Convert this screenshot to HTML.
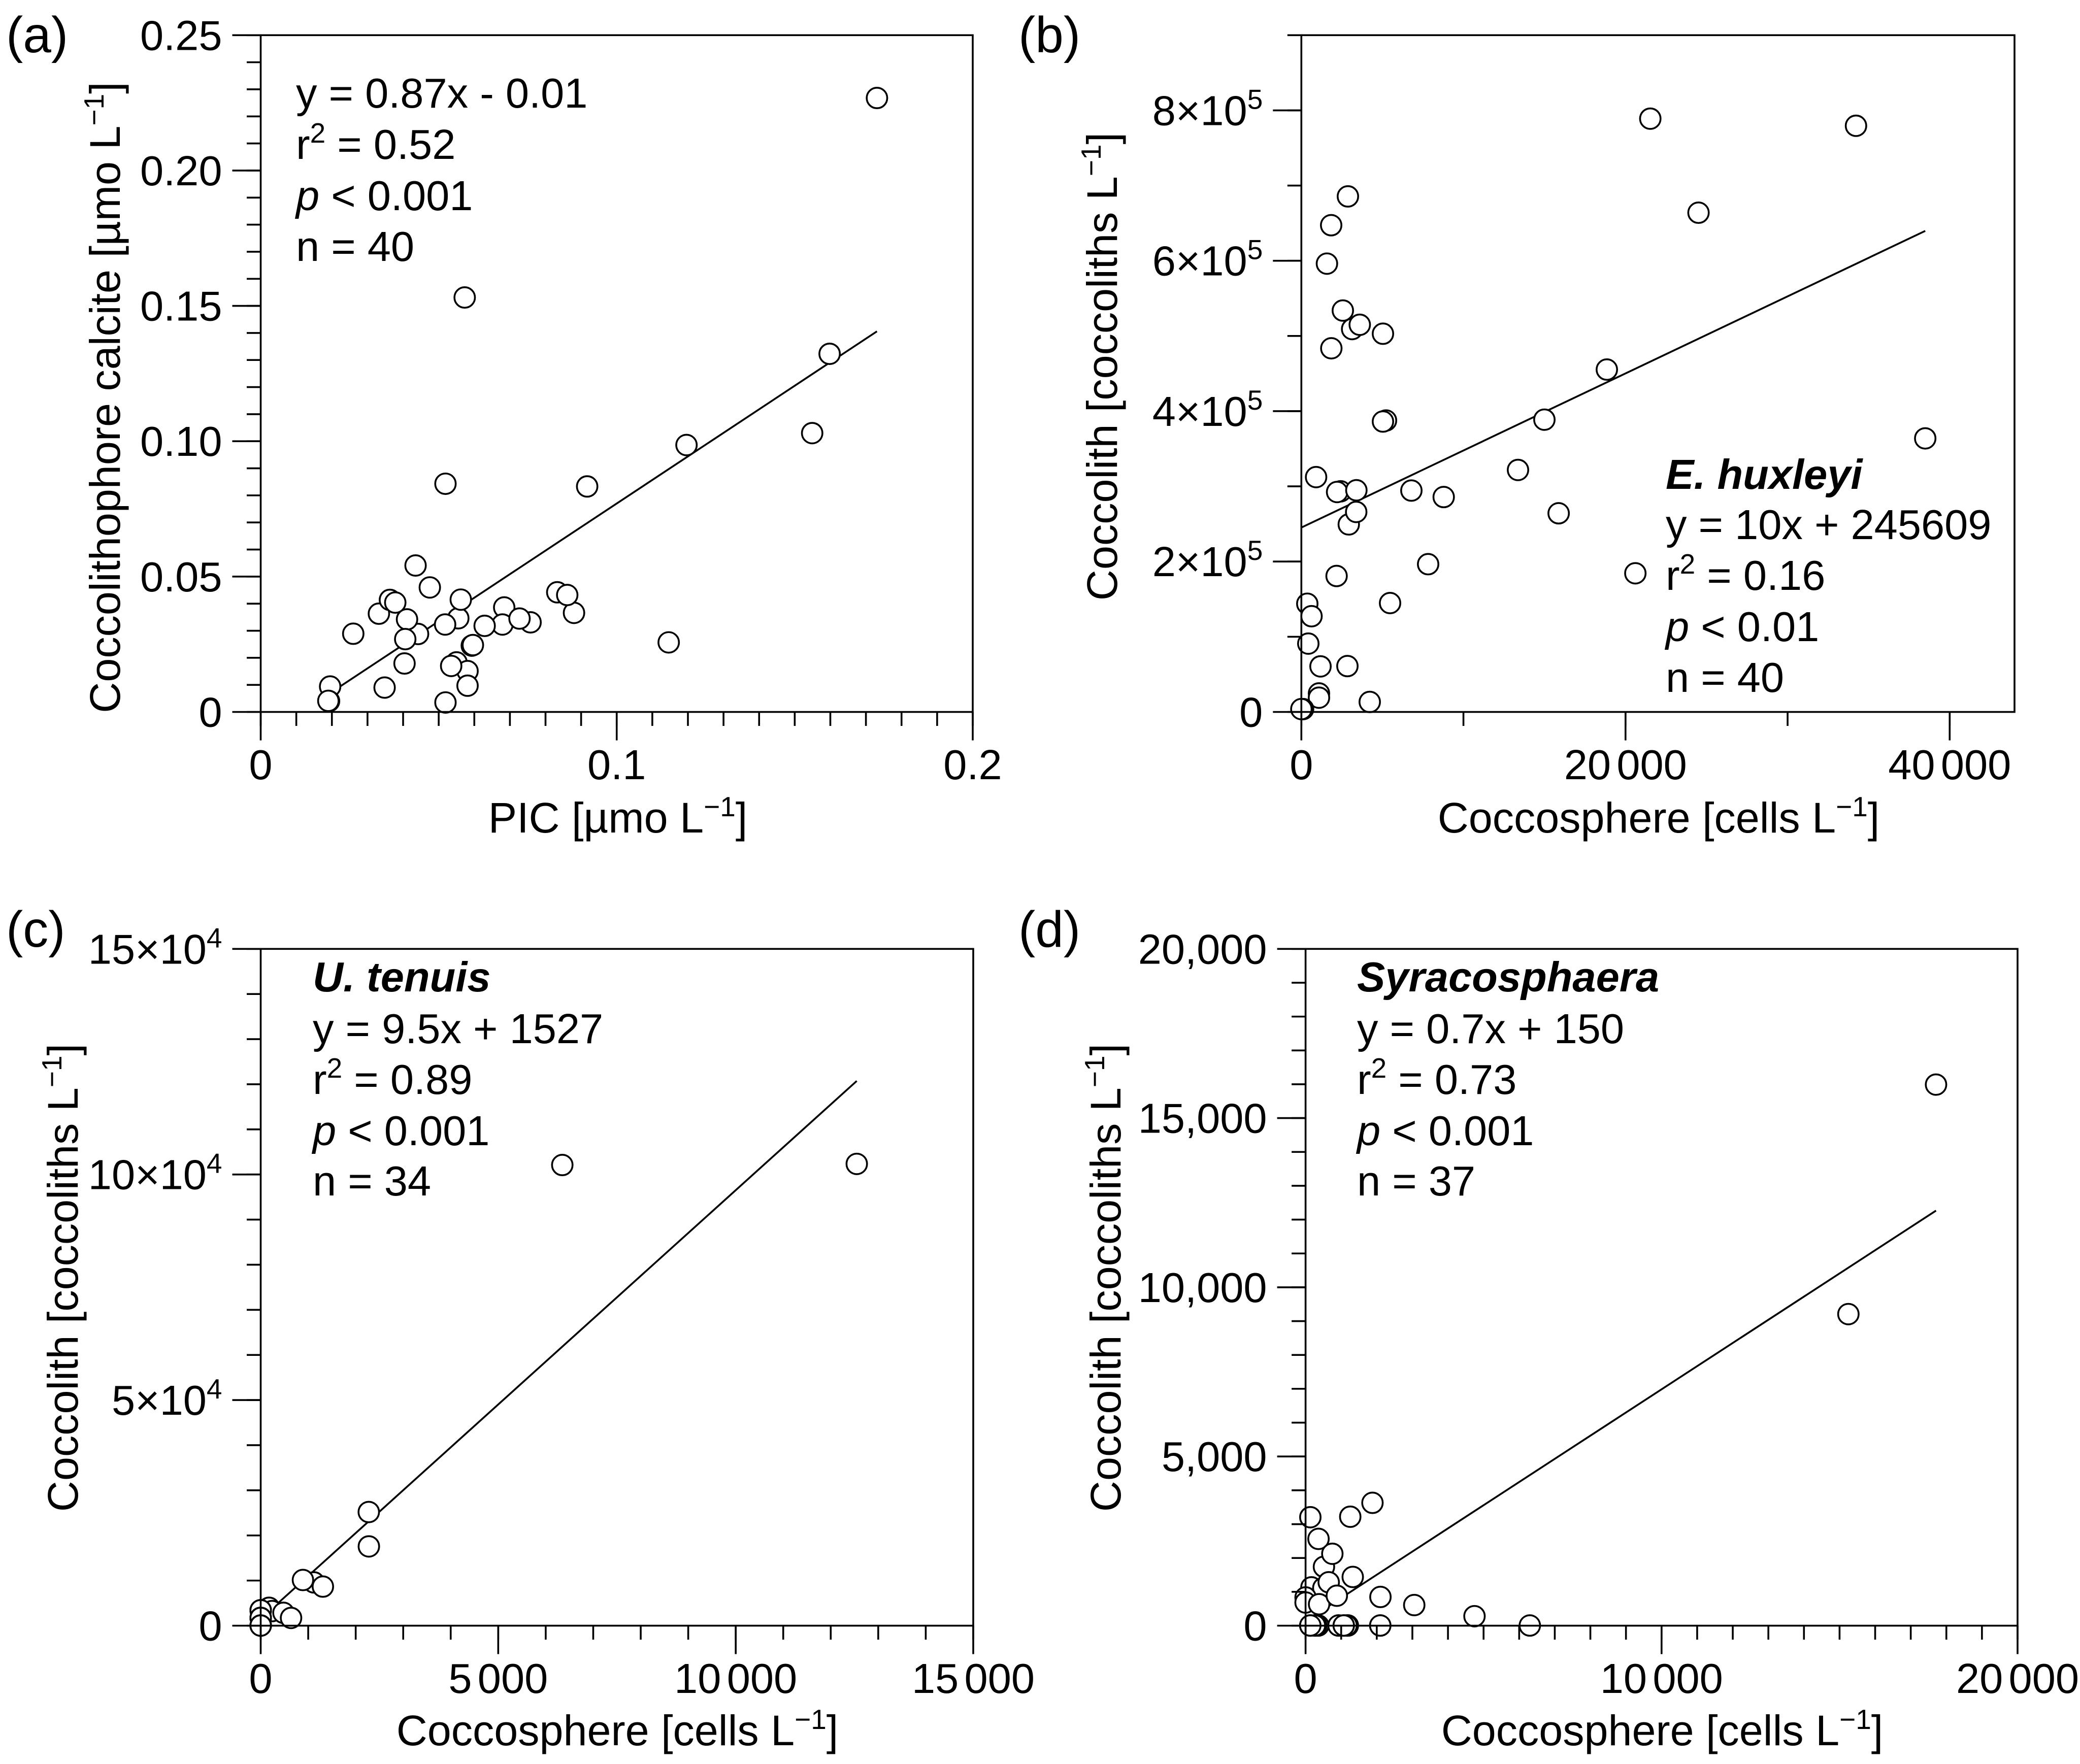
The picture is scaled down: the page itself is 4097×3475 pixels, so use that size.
<!DOCTYPE html>
<html lang="en">
<head>
<meta charset="utf-8">
<title>Coccolith and coccosphere regressions</title>
<style>
html,body{margin:0;padding:0;background:#fff;}
svg{display:block;}
text{font-family:"Liberation Sans",sans-serif;font-size:83px;fill:#000;}
.panel-tag{font-size:100px;}
.axis-title{font-size:84.5px;}
</style>
</head>
<body>
<svg id="figure" xmlns="http://www.w3.org/2000/svg" width="4097" height="3475" viewBox="0 0 4097 3475">
<rect width="4097" height="3475" fill="#fff"/>
<g id="panel-a"></g>
<g id="panel-b"></g>
<g id="panel-c"></g>
<g id="panel-d"></g>

<g>
<text class="panel-tag" x="12" y="103">(a)</text>
<text class="panel-tag" x="2006" y="103">(b)</text>
<text class="panel-tag" x="12" y="1865">(c)</text>
<text class="panel-tag" x="2006" y="1865">(d)</text>
</g>

<g>
<text class="axis-title" x="1217" y="1640" text-anchor="middle">PIC [µmo L<tspan dy="-32" font-size="55">−1</tspan><tspan dy="32">]</tspan></text>
<text class="axis-title" transform="translate(236 783) rotate(-90)" text-anchor="middle">Coccolithophore calcite [µmo L<tspan dy="-32" font-size="55">−1</tspan><tspan dy="32">]</tspan></text>
<text class="axis-title" x="3267" y="1640" text-anchor="middle">Coccosphere [cells L<tspan dy="-32" font-size="55">−1</tspan><tspan dy="32">]</tspan></text>
<text class="axis-title" transform="translate(2200 722) rotate(-90)" text-anchor="middle">Coccolith [coccoliths L<tspan dy="-32" font-size="55">−1</tspan><tspan dy="32">]</tspan></text>
<text class="axis-title" x="1216" y="3438" text-anchor="middle">Coccosphere [cells L<tspan dy="-32" font-size="55">−1</tspan><tspan dy="32">]</tspan></text>
<text class="axis-title" transform="translate(153 2517) rotate(-90)" text-anchor="middle">Coccolith [coccoliths L<tspan dy="-32" font-size="55">−1</tspan><tspan dy="32">]</tspan></text>
<text class="axis-title" x="3274" y="3438" text-anchor="middle">Coccosphere [cells L<tspan dy="-32" font-size="55">−1</tspan><tspan dy="32">]</tspan></text>
<text class="axis-title" transform="translate(2207 2517) rotate(-90)" text-anchor="middle">Coccolith [coccoliths L<tspan dy="-32" font-size="55">−1</tspan><tspan dy="32">]</tspan></text>
</g>

<g>
<text x="583" y="212">y = 0.87x - 0.01</text>
<text x="583" y="313">r<tspan dy="-32" font-size="55">2</tspan><tspan dy="32"> = 0.52</tspan></text>
<text x="583" y="414"><tspan font-style="italic">p</tspan> &lt; 0.001</text>
<text x="583" y="514">n = 40</text>
</g>
<g>
<text x="3281" y="963" font-weight="bold" font-style="italic">E. huxleyi</text>
<text x="3281" y="1062">y = 10x + 245609</text>
<text x="3281" y="1162">r<tspan dy="-32" font-size="55">2</tspan><tspan dy="32"> = 0.16</tspan></text>
<text x="3281" y="1263"><tspan font-style="italic">p</tspan> &lt; 0.01</text>
<text x="3281" y="1363">n = 40</text>
</g>
<g>
<text x="616" y="1953" font-weight="bold" font-style="italic">U. tenuis</text>
<text x="616" y="2055">y = 9.5x + 1527</text>
<text x="616" y="2155">r<tspan dy="-32" font-size="55">2</tspan><tspan dy="32"> = 0.89</tspan></text>
<text x="616" y="2256"><tspan font-style="italic">p</tspan> &lt; 0.001</text>
<text x="616" y="2355">n = 34</text>
</g>
<g>
<text x="2673" y="1953" font-weight="bold" font-style="italic">Syracosphaera</text>
<text x="2673" y="2055">y = 0.7x + 150</text>
<text x="2673" y="2155">r<tspan dy="-32" font-size="55">2</tspan><tspan dy="32"> = 0.73</tspan></text>
<text x="2673" y="2256"><tspan font-style="italic">p</tspan> &lt; 0.001</text>
<text x="2673" y="2355">n = 37</text>
</g>
</svg>

<script>
// Panel (a): PIC vs coccolithophore calcite
var aXValues = [.0195,.0192,.0190,.0348,.0519,.0404,.0260,.0435,.0475,.0332,.0363,.0378,.0442,.0411,.0406,.0555,.0518,.0562,.0684,.0679,.0629,.0758,.0727,.0833,.0880,.0861,.1146,.0593,.0596,.0550,.0581,.0581,.0535,.0573,.0519,.0917,.1196,.1549,.1598,.1731];
var aYValues = [.0094,.0040,.0041,.0090,.0035,.0179,.0289,.0541,.0460,.0363,.0414,.0404,.0288,.0342,.0269,.0346,.0323,.0415,.0386,.0323,.0318,.0331,.0345,.0442,.0366,.0432,.0257,.0245,.0247,.0183,.0151,.0097,.0170,.1531,.0843,.0833,.0986,.1030,.1323,.2268];
var aLineX = [.0192,.1731];
var aLineY = [.0067,.1406];
var aXTicks = [0,.1,.2];
var aXTickLabels = ['0','0.1','0.2'];
var aYTicks = [0,.05,.1,.15,.2,.25];
var aYTickLabels = ['0','0.05','0.10','0.15','0.20','0.25'];
var aYTickExps = ['','','','','',''];

// Panel (b): E. huxleyi
var bXValues = [2872,1839,1578,2559,3133,3603,5034,1849,5222,5034,909,2424,2205,3394,6788,8782,13366,2925,3384,7822,2173,5473,366,627,429,1181,2841,1087,1087,4219,106,0,21529,34220,24503,18848,14995,15874,20607,38492];
var bYValues = [685600,647300,596200,533800,509200,514900,503000,483600,387600,386200,312300,293400,292500,294800,294400,285800,321800,249400,266000,196500,180800,144800,143900,127300,90900,60600,61000,24600,19000,13300,3800,3800,789000,779500,663900,455300,388700,264200,184400,363800];
var bLineX = [0,38492];
var bLineY = [245200,639700];
var bXTicks = [0,20000,40000];
var bXTickLabels = ['0','20 000','40 000'];
var bYTicks = [0,200000,400000,600000,800000];
var bYTickLabels = ['0','2×10','4×10','6×10','8×10'];
var bYTickExps = ['','5','5','5','5'];

// Panel (c): U. tenuis
var cXValues = [176,240,479,639,1120,889,1309,2277,2275,6349,12548,0,0,0,0,0,0,0,0,0,0,0,0,0,0,0,0,0,0,0,0,0,0,0];
var cYValues = [3970,3230,2850,1720,9590,10120,8660,17570,25190,102100,102350,3410,3410,3410,3410,3410,3410,3410,1720,1720,1720,1720,1720,1720,1720,1720,30,30,30,30,30,30,30,30];
var cLineX = [0,12548];
var cLineY = [1527,120733];
var cXTicks = [0,5000,10000,15000];
var cXTickLabels = ['0','5 000','10 000','15 000'];
var cYTicks = [0,50000,100000,150000];
var cYTickLabels = ['0','5×10','10×10','15×10'];
var cYTickExps = ['','4','4','4'];

// Panel (d): Syracosphaera
var dXValues = [134,1255,1879,363,516,752,1325,165,499,650,0,0,380,878,2103,3053,4745,6299,2098,2098,133,133,356,356,300,261,261,926,926,1187,1187,1150,1072,1072,15248,17710,133];
var dYValues = [3205,3220,3630,2565,1740,2125,1440,1133,1114,1283,834,684,634,885,849,609,280,5,5,5,5,5,5,5,5,5,5,5,5,5,5,5,5,5,9208,15990,5];
var dLineX = [0,17710];
var dLineY = [135,12266];
var dXTicks = [0,10000,20000];
var dXTickLabels = ['0','10 000','20 000'];
var dYTicks = [0,5000,10000,15000,20000];
var dYTickLabels = ['0','5,000','10,000','15,000','20,000'];
var dYTickExps = ['','','','',''];

var SVG_NS = 'http://www.w3.org/2000/svg';

function svgEl(tag, parent) {
  var el = document.createElementNS(SVG_NS, tag);
  parent.appendChild(el);
  return el;
}

function drawLine(parent, x1, y1, x2, y2, name) {
  var el = svgEl('line', parent);
  
  
  el.setAttribute('x1', x1);
  el.setAttribute('y1', y1);
  el.setAttribute('x2', x2);
  el.setAttribute('y2', y2);
  el.setAttribute('stroke', '#000');
  el.setAttribute('stroke-width', '3.6');
  return el;
}

function drawPanel(id, frame, xDomain, yDomain, xMinorStep, yMinorStep, xValues, yValues, lineX, lineY, xTicks, xLabels, yTicks, yLabels, yExps) {
  var g = document.getElementById(id);
  function sx(v) { return frame.left + (v - xDomain[0]) / (xDomain[1] - xDomain[0]) * (frame.right - frame.left); }
  function sy(v) { return frame.bottom - (v - yDomain[0]) / (yDomain[1] - yDomain[0]) * (frame.bottom - frame.top); }
  var majorLen = 56, minorLen = 27.5, i, v;

  drawLine(g, sx(lineX[0]), sy(lineY[0]), sx(lineX[1]), sy(lineY[1]), 'regression-line');

  xValues.forEach(function (xv, k) {
    var c = svgEl('circle', g);
    
    
    c.setAttribute('cx', sx(xv));
    c.setAttribute('cy', sy(yValues[k]));
    c.setAttribute('r', '20.2');
    c.setAttribute('fill', '#fff');
    c.setAttribute('stroke', '#000');
    c.setAttribute('stroke-width', '3.6');
  });

  var box = svgEl('rect', g);
  
  
  box.setAttribute('x', frame.left);
  box.setAttribute('y', frame.top);
  box.setAttribute('width', frame.right - frame.left);
  box.setAttribute('height', frame.bottom - frame.top);
  box.setAttribute('fill', 'none');
  box.setAttribute('stroke', '#000');
  box.setAttribute('stroke-width', '3.6');

  var nx = Math.round((xDomain[1] - xDomain[0]) / xMinorStep);
  for (i = 0; i <= nx; i++) {
    v = xDomain[0] + i * xMinorStep;
    drawLine(g, sx(v), frame.bottom, sx(v), frame.bottom + minorLen, 'x-minor-tick');
  }
  var ny = Math.round((yDomain[1] - yDomain[0]) / yMinorStep);
  for (i = 0; i <= ny; i++) {
    v = yDomain[0] + i * yMinorStep;
    drawLine(g, frame.left - minorLen, sy(v), frame.left, sy(v), 'y-minor-tick');
  }

  xTicks.forEach(function (t, k) {
    drawLine(g, sx(t), frame.bottom, sx(t), frame.bottom + majorLen, 'x-major-tick');
    var label = svgEl('text', g);
    
    
    label.setAttribute('x', sx(t));
    label.setAttribute('y', frame.bottom + 132.5);
    label.setAttribute('text-anchor', 'middle');
    label.setAttribute('word-spacing', '-11.8');
    label.textContent = xLabels[k];
  });

  yTicks.forEach(function (t, k) {
    drawLine(g, frame.left - majorLen, sy(t), frame.left, sy(t), 'y-major-tick');
    var label = svgEl('text', g);
    
    
    label.setAttribute('x', frame.left - 76);
    label.setAttribute('y', sy(t) + 29);
    label.setAttribute('text-anchor', 'end');
    label.textContent = yLabels[k];
    if (yExps[k]) {
      var exp = svgEl('tspan', label);
      
      
      exp.setAttribute('dy', '-32');
      exp.setAttribute('font-size', '55');
      exp.textContent = yExps[k];
    }
  });
}

drawPanel('panel-a', {left: 513.5, right: 1916, top: 69.3, bottom: 1402.5}, [0, .2], [0, .25], .01, .01,
  aXValues, aYValues, aLineX, aLineY, aXTicks, aXTickLabels, aYTicks, aYTickLabels, aYTickExps);
drawPanel('panel-b', {left: 2563.3, right: 3968, top: 69.3, bottom: 1402.5}, [0, 44000], [0, 900000], 10000, 100000,
  bXValues, bYValues, bLineX, bLineY, bXTicks, bXTickLabels, bYTicks, bYTickLabels, bYTickExps);
drawPanel('panel-c', {left: 513.5, right: 1917, top: 1869.3, bottom: 3202.5}, [0, 15000], [0, 150000], 1000, 10000,
  cXValues, cYValues, cLineX, cLineY, cXTicks, cXTickLabels, cYTicks, cYTickLabels, cYTickExps);
drawPanel('panel-d', {left: 2571.6, right: 3974, top: 1869.3, bottom: 3202.5}, [0, 20000], [0, 20000], 1000, 1000,
  dXValues, dYValues, dLineX, dLineY, dXTicks, dXTickLabels, dYTicks, dYTickLabels, dYTickExps);
</script>
</body>
</html>
